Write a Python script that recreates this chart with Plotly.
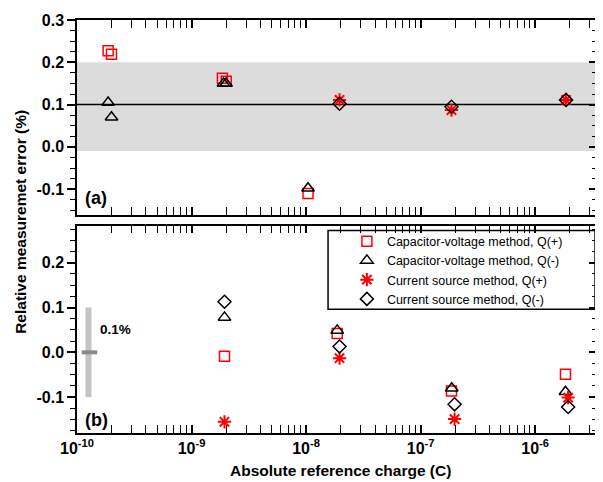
import plotly.graph_objects as go

# ---------------- data ----------------
# panel (a)
cvp_a_x = [1.87e-10, 2.0e-10, 1.86e-9, 2.01e-9, 1.04e-8]
cvp_a_y = [0.227, 0.219, 0.162, 0.155, -0.110]
cvn_a_x = [1.87e-10, 2.0e-10, 1.9e-9, 2.0e-9, 1.04e-8]
cvn_a_y = [0.105, 0.070, 0.150, 0.150, -0.098]
csp_a_x = [1.96e-8, 1.86e-7, 1.86e-6]
csp_a_y = [0.111, 0.087, 0.111]
csn_a_x = [1.96e-8, 1.86e-7, 1.86e-6]
csn_a_y = [0.102, 0.095, 0.111]

# panel (b)
cvp_b_x = [1.94e-9, 1.87e-8, 1.86e-7, 1.84e-6]
cvp_b_y = [-0.009, 0.042, -0.086, -0.049]
cvn_b_x = [1.94e-9, 1.87e-8, 1.87e-7, 1.84e-6]
cvn_b_y = [0.078, 0.049, -0.080, -0.088]
csp_b_x = [1.94e-9, 1.96e-8, 1.98e-7, 1.94e-6]
csp_b_y = [-0.155, -0.013, -0.149, -0.101]
csn_b_x = [1.94e-9, 1.96e-8, 1.98e-7, 1.94e-6]
csn_b_y = [0.113, 0.013, -0.116, -0.122]

series_names = ["Capacitor-voltage method, Q(+)", "Capacitor-voltage method, Q(-)",
                "Current source method, Q(+)", "Current source method, Q(-)"]

band_low, band_high = -0.01, 0.2
ref_line = 0.1

scale_bar_x = [1.26e-10, 1.26e-10]
scale_bar_y = [-0.1, 0.1]
scale_mid_x = [1.10e-10, 1.50e-10]
scale_mid_y = [0.0, 0.0]

x_tickvals = [1e-10, 1e-9, 1e-8, 1e-7, 1e-6]
x_ticktext = ["10<sup>-10</sup>", "10<sup>-9</sup>", "10<sup>-8</sup>", "10<sup>-7</sup>", "10<sup>-6</sup>"]
x_minor = [m * 10.0 ** e for e in range(-10, -5) for m in range(2, 10)]
ya_tickvals = [-0.1, 0.0, 0.1, 0.2, 0.3]
ya_ticktext = ["-0.1", "0.0", "0.1", "0.2", "0.3"]
yb_tickvals = [-0.1, 0.0, 0.1, 0.2]
yb_ticktext = ["-0.1", "0.0", "0.1", "0.2"]

# ---------------- figure ----------------
FONT = "Liberation Sans, Arial, Helvetica, sans-serif"
RED = "#ff0000"
BLK = "#000000"

styles = [
    dict(symbol="square-open", size=10, color=RED, line=dict(color=RED, width=1.5)),
    dict(symbol="triangle-up-open", size=11, color=BLK, line=dict(color=BLK, width=1.5)),
    dict(symbol="asterisk-open", size=11, color=RED, line=dict(color=RED, width=2)),
    dict(symbol="diamond-open", size=10, color=BLK, line=dict(color=BLK, width=1.5)),
]

fig = go.Figure()

top = [(cvp_a_x, cvp_a_y), (cvn_a_x, cvn_a_y), (csp_a_x, csp_a_y), (csn_a_x, csn_a_y)]
bot = [(cvp_b_x, cvp_b_y), (cvn_b_x, cvn_b_y), (csp_b_x, csp_b_y), (csn_b_x, csn_b_y)]

# scale bar in panel (b)
fig.add_trace(go.Scatter(x=scale_bar_x, y=scale_bar_y, mode="lines",
                         line=dict(color="#c4c4c4", width=6), showlegend=False,
                         hoverinfo="skip", xaxis="x", yaxis="y"))
fig.add_trace(go.Scatter(x=scale_mid_x, y=scale_mid_y, mode="lines",
                         line=dict(color="#8a8a8a", width=4), showlegend=False,
                         hoverinfo="skip", xaxis="x", yaxis="y"))

for i, (name, st) in enumerate(zip(series_names, styles)):
    fig.add_trace(go.Scatter(x=top[i][0], y=top[i][1], mode="markers", name=name,
                             marker=st, legendgroup=name, showlegend=False,
                             xaxis="x2", yaxis="y2"))
for i, (name, st) in enumerate(zip(series_names, styles)):
    fig.add_trace(go.Scatter(x=bot[i][0], y=bot[i][1], mode="markers", name=name,
                             marker=st, legendgroup=name, showlegend=True,
                             xaxis="x", yaxis="y"))

# dummy traces for right-side overlay axes
fig.add_trace(go.Scatter(x=[None], y=[None], xaxis="x", yaxis="y3", showlegend=False, hoverinfo="skip"))
fig.add_trace(go.Scatter(x=[None], y=[None], xaxis="x2", yaxis="y4", showlegend=False, hoverinfo="skip"))

XR = [-10, -5.46]
top_dom = [0.529, 1.0]
bot_dom = [0.0, 0.5024]
ra = [-0.16, 0.3]
rb = [-0.18, 0.283]

xcommon = dict(type="log", range=XR, tickmode="array", tickvals=x_tickvals,
               ticks="inside", ticklen=8, tickwidth=1.5, tickcolor=BLK,
               showline=True, linewidth=1.5, linecolor=BLK, mirror="allticks",
               showgrid=False, zeroline=False,
               minor=dict(tickvals=x_minor, ticks="inside", ticklen=4, tickwidth=1, tickcolor=BLK, showgrid=False))

ycommon_left = dict(ticks="outside", ticklen=8, tickwidth=1.5, tickcolor=BLK,
                    showline=True, linewidth=1.5, linecolor=BLK, mirror=True,
                    showgrid=False, zeroline=False, tickmode="array",
                    minor=dict(dtick=0.025, ticks="outside", ticklen=5, tickwidth=1, tickcolor=BLK, showgrid=False))
ycommon_right = dict(ticks="inside", ticklen=8, tickwidth=1.5, tickcolor=BLK,
                     showline=False, showgrid=False, zeroline=False, tickmode="array",
                     showticklabels=False, side="right",
                     minor=dict(dtick=0.025, ticks="inside", ticklen=5, tickwidth=1, tickcolor=BLK, showgrid=False))

# the page body adds an 8px offset, so the figure is 8px smaller and margins shifted
fig.update_layout(
    width=595, height=474,
    margin=dict(l=69, r=4, t=11, b=49),
    paper_bgcolor="white", plot_bgcolor="white",
    font=dict(family=FONT, size=16, color=BLK, weight="bold"),
    xaxis=dict(xcommon, anchor="y", domain=[0, 1], ticktext=x_ticktext,
               tickfont=dict(size=16, weight="bold")),
    xaxis2=dict(xcommon, anchor="y2", domain=[0, 1], matches="x", showticklabels=False),
    yaxis=dict(ycommon_left, domain=bot_dom, range=rb, anchor="x",
               tickvals=yb_tickvals, ticktext=yb_ticktext, tickfont=dict(size=16, weight="bold")),
    yaxis2=dict(ycommon_left, domain=top_dom, range=ra, anchor="x2",
                tickvals=ya_tickvals, ticktext=ya_ticktext, tickfont=dict(size=16, weight="bold")),
    yaxis3=dict(ycommon_right, overlaying="y", range=rb, anchor="x", tickvals=yb_tickvals),
    yaxis4=dict(ycommon_right, overlaying="y2", range=ra, anchor="x2", tickvals=ya_tickvals),
    legend=dict(x=0.519, y=0.500, xanchor="left", yanchor="top",
                bgcolor="rgba(255,255,255,0)", borderwidth=0,
                font=dict(family=FONT, size=12.5, weight="normal"),
                itemwidth=30, tracegroupgap=0),
    showlegend=True,
)

fig.add_shape(type="rect", xref="x2 domain", yref="y2", x0=0, x1=1, y0=band_low, y1=band_high,
              fillcolor="#dcdcdc", line=dict(width=0), layer="below")
fig.add_shape(type="line", xref="x2 domain", yref="y2", x0=0, x1=1, y0=ref_line, y1=ref_line,
              line=dict(color=BLK, width=1.5), layer="below")
# legend frame
fig.add_shape(type="rect", xref="paper", yref="paper", x0=0.4828, x1=0.9962, y0=0.2995, y1=0.4903,
              line=dict(color=BLK, width=1.5), fillcolor="rgba(0,0,0,0)", layer="above")

fig.add_annotation(text="(a)", xref="paper", yref="paper", x=0.0115, y=0.570,
                   xanchor="left", yanchor="middle", showarrow=False,
                   font=dict(size=18, weight="bold"))
fig.add_annotation(text="(b)", xref="paper", yref="paper", x=0.0115, y=0.0314,
                   xanchor="left", yanchor="middle", showarrow=False,
                   font=dict(size=18, weight="bold"))
fig.add_annotation(text="0.1%", xref="x", yref="y", x=-9.82, y=0.05,
                   xanchor="left", yanchor="middle", showarrow=False,
                   font=dict(size=13.5, weight="bold"))
fig.add_annotation(text="Relative measuremet error (%)", xref="paper", yref="paper",
                   x=-0.109, y=0.512, xanchor="center", yanchor="middle", textangle=-90,
                   showarrow=False, font=dict(size=15.5, weight="bold"))
fig.add_annotation(text="Absolute reference charge (C)", xref="paper", yref="paper",
                   x=0.506, y=-0.0918, xanchor="center", yanchor="middle",
                   showarrow=False, font=dict(size=15.5, weight="bold"))

fig.write_html("out.html")
